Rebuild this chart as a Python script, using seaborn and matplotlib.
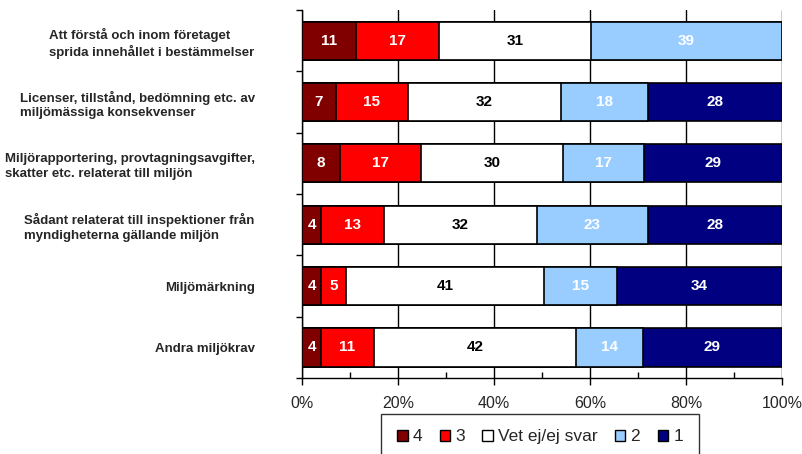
import numpy as np
import pandas as pd
import matplotlib
matplotlib.use("Agg")
import matplotlib.pyplot as plt
from matplotlib.patches import Patch
from matplotlib.ticker import MultipleLocator, FixedLocator
import seaborn as sns

# Data
categories = [
    "Att förstå och inom företaget\nsprida innehållet i bestämmelser",
    "Licenser, tillstånd, bedömning etc. av\nmiljömässiga konsekvenser",
    "Miljörapportering, provtagningsavgifter,\nskatter etc. relaterat till miljön",
    "Sådant relaterat till inspektioner från\nmyndigheterna gällande miljön",
    "Miljömärkning",
    "Andra miljökrav",
]
series = ["4", "3", "Vet ej/ej svar", "2", "1"]
vals_4 = [11, 7, 8, 4, 4, 4]
vals_3 = [17, 15, 17, 13, 5, 11]
vals_vet = [31, 32, 30, 32, 41, 42]
vals_2 = [39, 18, 17, 23, 15, 14]
vals_1 = [0, 28, 29, 28, 34, 29]

colors = ["#800000", "#FF0000", "#FFFFFF", "#99CCFF", "#000080"]
label_colors = ["white", "white", "black", "white", "white"]

sns.set_style("white")
plt.rcParams["font.family"] = ["Liberation Sans", "DejaVu Sans"]

# 100% stacked: normalise each row
raw = np.array([vals_4, vals_3, vals_vet, vals_2, vals_1], dtype=float)
pct = raw / raw.sum(axis=0) * 100
cum = np.cumsum(pct, axis=0)

fig = plt.figure(figsize=(8.03, 4.54), dpi=100)
ax = fig.add_axes([0.376, 0.167, 0.598, 0.811])

# draw cumulative bars from the outermost series inwards
for i in range(len(series) - 1, -1, -1):
    df = pd.DataFrame({"cat": categories, "cum": cum[i]})
    sns.barplot(data=df, x="cum", y="cat", order=categories, color=colors[i],
                saturation=1, width=0.62, edgecolor="black", linewidth=1.2,
                ax=ax, zorder=3)

# value labels in the middle of each segment
for i in range(len(series)):
    for j in range(len(categories)):
        if raw[i, j] <= 0:
            continue
        xc = cum[i, j] - pct[i, j] / 2
        ax.text(xc, j, f"{int(raw[i, j])}", ha="center", va="center",
                color=label_colors[i], fontsize=11, fontweight="bold", zorder=5)

ax.set_xlim(0, 100)
ax.set_ylim(len(categories) - 0.5, -0.5)
ax.set_xlabel("")
ax.set_ylabel("")

ax.xaxis.set_minor_locator(MultipleLocator(10))
ax.set_xticks(np.arange(0, 101, 20))
ax.set_xticklabels([f"{v}%" for v in range(0, 101, 20)])
ax.tick_params(axis="x", which="major", direction="out", length=5, width=1,
               color="black", labelsize=11.5, pad=8, bottom=True)
ax.tick_params(axis="x", which="minor", direction="in", length=4, width=1,
               color="black", bottom=True)
ax.grid(axis="x", color="black", linewidth=1, zorder=0)
ax.set_axisbelow(True)

ax.set_yticks(range(len(categories)))
ax.set_yticklabels(categories, fontsize=9.5, fontweight="bold",
                   ha="right", multialignment="left", linespacing=1.3)
ax.yaxis.set_minor_locator(FixedLocator(np.arange(-0.5, len(categories), 1)))
ax.tick_params(axis="y", which="major", length=0, pad=34)
ax.tick_params(axis="y", which="minor", direction="out", length=4, width=1,
               color="black", left=True)

for side in ["top", "right"]:
    ax.spines[side].set_visible(False)
for side in ["left", "bottom"]:
    ax.spines[side].set_color("black")
    ax.spines[side].set_linewidth(1)

handles = [Patch(facecolor=c, edgecolor="black", linewidth=1) for c in colors]
leg = fig.legend(handles, series, loc="upper center",
                 bbox_to_anchor=(540 / 803, 1 - 405 / 454), ncol=5,
                 fontsize=12.5, frameon=True, fancybox=False, edgecolor="black",
                 handlelength=0.6, handleheight=0.6, handletextpad=0.3,
                 columnspacing=1.0, borderpad=0.9)
leg.get_frame().set_linewidth(1)

fig.savefig("out.png", dpi=100)
